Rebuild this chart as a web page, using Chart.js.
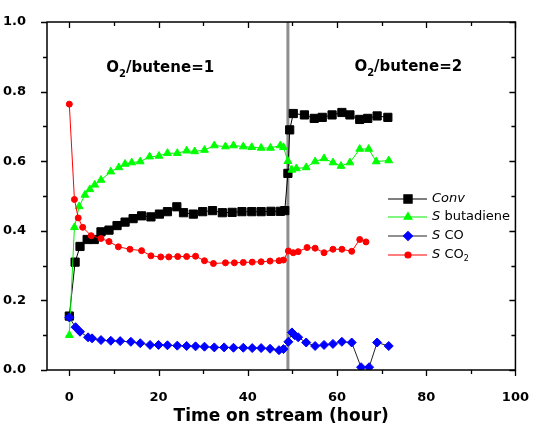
<!DOCTYPE html>
<html>
<head>
<meta charset="utf-8">
<script src="https://cdn.jsdelivr.net/npm/chart.js@4.4.0/dist/chart.umd.min.js"></script>
<style>
  html, body { margin: 0; padding: 0; background: #fff; }
  #wrap { width: 541px; height: 427px; }
</style>
</head>
<body>
<div id="wrap"><canvas id="chart" width="541" height="427"></canvas></div>
<script>
// tick labels
const xTicks = [0, 20, 40, 60, 80, 100];
const yTicks = [0, 0.2, 0.4, 0.6, 0.8, 1.0];
const switchTime = 49;

// Conv
const convTime = [0, 1.3, 2.4, 4, 5.6, 7.1, 8.9, 10.7, 12.5, 14.3, 16.2, 18.3, 20.2, 22, 24.1, 25.6, 27.8, 29.9, 32.1, 34.3, 36.5, 38.7, 40.9, 43, 45.2, 47.3, 48.3, 49, 49.4, 50.2, 52.7, 54.9, 56.7, 58.9, 61.1, 62.9, 65.1, 66.9, 69, 71.4];
const conv = [0.155, 0.31, 0.355, 0.375, 0.375, 0.397, 0.402, 0.415, 0.425, 0.435, 0.443, 0.44, 0.448, 0.455, 0.469, 0.452, 0.448, 0.455, 0.458, 0.452, 0.453, 0.455, 0.455, 0.455, 0.456, 0.456, 0.458, 0.565, 0.69, 0.737, 0.733, 0.723, 0.726, 0.733, 0.74, 0.733, 0.72, 0.723, 0.73, 0.726];

// S butadiene
const butTime = [0, 1.15, 2.2, 3.5, 4.6, 5.7, 7.1, 9.3, 11.1, 12.5, 14, 15.9, 18, 20.1, 22, 24.2, 26.3, 28.1, 30.3, 32.5, 35, 36.8, 39, 40.9, 43, 45.1, 47.3, 48, 49, 49.9, 50.9, 53.1, 55.1, 57.1, 59.1, 60.9, 62.9, 65.1, 67.1, 68.8, 71.6];
const butadiene = [0.1, 0.41, 0.47, 0.503, 0.519, 0.532, 0.546, 0.57, 0.582, 0.592, 0.596, 0.599, 0.613, 0.615, 0.623, 0.623, 0.63, 0.628, 0.632, 0.645, 0.642, 0.645, 0.642, 0.64, 0.638, 0.638, 0.645, 0.64, 0.6, 0.575, 0.579, 0.582, 0.599, 0.608, 0.596, 0.586, 0.596, 0.635, 0.635, 0.599, 0.602];

// S CO
const coTime = [0, 1.4, 2.4, 4.2, 5.1, 7.1, 9.3, 11.4, 13.8, 15.9, 18.1, 20, 22, 24.2, 26.3, 28.3, 30.3, 32.5, 34.7, 36.8, 39, 41, 43, 45, 47, 48, 49.1, 49.9, 50.5, 51.3, 53.1, 55.1, 57.1, 59.1, 61.1, 63.3, 65.4, 67.2, 69, 71.6];
const co = [0.151, 0.123, 0.11, 0.094, 0.091, 0.086, 0.084, 0.083, 0.081, 0.077, 0.072, 0.072, 0.071, 0.07, 0.069, 0.068, 0.067, 0.065, 0.065, 0.064, 0.064, 0.063, 0.063, 0.061, 0.057, 0.06, 0.081, 0.108, 0.1, 0.094, 0.079, 0.069, 0.072, 0.075, 0.081, 0.079, 0.008, 0.008, 0.079, 0.069];

// S CO2
const co2Time = [0, 1.15, 2, 3, 4.9, 7.1, 8.9, 11, 13.6, 16.2, 18.3, 20.5, 22.3, 24.3, 26.3, 28.3, 30.3, 32.3, 35, 37, 39, 41, 43, 45, 47, 48, 49.1, 50.2, 51.3, 53.3, 55.1, 57.1, 59.1, 61.1, 63.3, 65.1, 66.5];
const co2 = [0.764, 0.49, 0.437, 0.41, 0.386, 0.378, 0.369, 0.354, 0.347, 0.343, 0.328, 0.325, 0.325, 0.326, 0.326, 0.327, 0.314, 0.306, 0.308, 0.308, 0.309, 0.31, 0.311, 0.313, 0.314, 0.316, 0.342, 0.337, 0.34, 0.352, 0.35, 0.337, 0.347, 0.347, 0.341, 0.375, 0.368];

function toPoints(xs, ys) {
  return xs.map((t, i) => ({ x: t, y: ys[i] }));
}

const series = [
  { label: "Conv", data: toPoints(convTime, conv), line: "#000000", fill: "#000000", style: "rect", radius: 5.8 },
  { label: "S butadiene", data: toPoints(butTime, butadiene), line: "#00ee00", fill: "#00ff00", style: "triangle", radius: 4.5 },
  { label: "S CO", data: toPoints(coTime, co), line: "#222222", fill: "#0000ff", style: "rectRot", radius: 4.5 },
  { label: "S CO2", data: toPoints(co2Time, co2), line: "#ff0000", fill: "#ff0000", style: "circle", radius: 3 },
];

const legendItems = [
  [{ t: "Conv", it: true }],
  [{ t: "S", it: true }, { t: " butadiene" }],
  [{ t: "S", it: true }, { t: " CO" }],
  [{ t: "S", it: true }, { t: " CO" }, { t: "2", sub: true }],
];

function drawParts(ctx, x, y, parts, size) {
  let cx = x;
  parts.forEach(p => {
    const fs = p.sub ? Math.round(size * 0.65) : size;
    ctx.font = `${p.it ? "italic " : ""}${p.bold ? "bold " : ""}${fs}px "DejaVu Sans"`;
    ctx.fillText(p.t, cx, y + (p.sub ? size * 0.3 : 0));
    cx += ctx.measureText(p.t).width;
  });
}

const decor = {
  id: "decor",
  afterDraw(chart) {
    const { ctx, chartArea: a, scales: { x, y } } = chart;
    ctx.save();
    ctx.strokeStyle = "#000";
    ctx.lineWidth = 1.5;
    ctx.strokeRect(a.left, a.top, a.right - a.left, a.bottom - a.top);

    ctx.lineWidth = 1.3;
    ctx.beginPath();
    for (let v = 0; v <= 100; v += 10) {
      const px = Math.round(x.getPixelForValue(v)) + 0.5;
      const len = v % 20 === 0 ? 6 : 4;
      ctx.moveTo(px, a.bottom); ctx.lineTo(px, a.bottom + len);
      ctx.moveTo(px, a.top); ctx.lineTo(px, a.top + len);
    }
    for (let i = 0; i <= 10; i++) {
      const py = Math.round(y.getPixelForValue(i / 10)) + 0.5;
      const len = i % 2 === 0 ? 6 : 4;
      ctx.moveTo(a.left - len, py); ctx.lineTo(a.left, py);
      ctx.moveTo(a.right - len, py); ctx.lineTo(a.right, py);
    }
    ctx.stroke();

    // axis title
    ctx.fillStyle = "#000";
    ctx.textAlign = "center";
    ctx.textBaseline = "alphabetic";
    ctx.font = 'bold 17px "DejaVu Sans"';
    ctx.fillText("Time on stream (hour)", (a.left + a.right) / 2, 421);

    // region labels
    ctx.textAlign = "left";
    drawParts(ctx, x.getPixelForValue(8.3), y.getPixelForValue(0.856),
      [{ t: "O", bold: true }, { t: "2", bold: true, sub: true }, { t: "/butene=1", bold: true }], 15);
    drawParts(ctx, x.getPixelForValue(63.9), y.getPixelForValue(0.859),
      [{ t: "O", bold: true }, { t: "2", bold: true, sub: true }, { t: "/butene=2", bold: true }], 15);

    // legend
    const rows = [199, 217, 236, 255];
    series.forEach((s, i) => {
      const ry = rows[i];
      ctx.strokeStyle = s.line;
      ctx.lineWidth = 1.2;
      ctx.beginPath();
      ctx.moveTo(388, ry); ctx.lineTo(427, ry);
      ctx.stroke();
      ctx.fillStyle = s.fill;
      ctx.strokeStyle = s.fill;
      Chart.helpers.drawPoint(ctx, { pointStyle: s.style, radius: s.radius, rotation: 0, borderWidth: 1 }, 408, ry);
      ctx.fillStyle = "#000";
      ctx.textBaseline = "middle";
      drawParts(ctx, 432, ry, legendItems[i], 13);
    });
    ctx.restore();
  }
};

const datasets = series.map((s, i) => ({
  label: s.label,
  data: s.data,
  borderColor: s.line,
  backgroundColor: s.fill,
  pointBackgroundColor: s.fill,
  pointBorderColor: s.fill,
  pointStyle: s.style,
  pointRadius: s.radius,
  pointBorderWidth: 1,
  borderWidth: 1,
  tension: 0,
  order: 4 - i,
}));

datasets.push({
  label: "switch",
  data: [{ x: switchTime, y: 0 }, { x: switchTime, y: 1 }],
  borderColor: "#8f8f8f",
  borderWidth: 3,
  pointRadius: 0,
  order: 10,
});

new Chart(document.getElementById("chart"), {
  type: "line",
  data: { datasets },
  plugins: [decor],
  options: {
    responsive: false,
    animation: false,
    layout: { padding: { top: 22, right: 11, left: 0, bottom: 0 } },
    plugins: { legend: { display: false }, tooltip: { enabled: false } },
    scales: {
      x: {
        type: "linear",
        min: -5,
        max: 100,
        afterBuildTicks: s => { s.ticks = xTicks.map(v => ({ value: v })); },
        afterFit: s => { s.height = 57; },
        grid: { display: false },
        border: { display: false },
        ticks: { color: "#000", padding: 12, font: { family: "DejaVu Sans", size: 13, weight: "bold" } },
      },
      y: {
        min: 0,
        max: 1,
        afterBuildTicks: s => { s.ticks = yTicks.map(v => ({ value: v })); },
        afterFit: s => { s.width = 47; },
        grid: { display: false },
        border: { display: false },
        ticks: {
          color: "#000",
          padding: 13,
          callback: v => v.toFixed(1),
          font: { family: "DejaVu Sans", size: 13, weight: "bold" },
        },
      },
    },
  },
});
</script>
</body>
</html>
